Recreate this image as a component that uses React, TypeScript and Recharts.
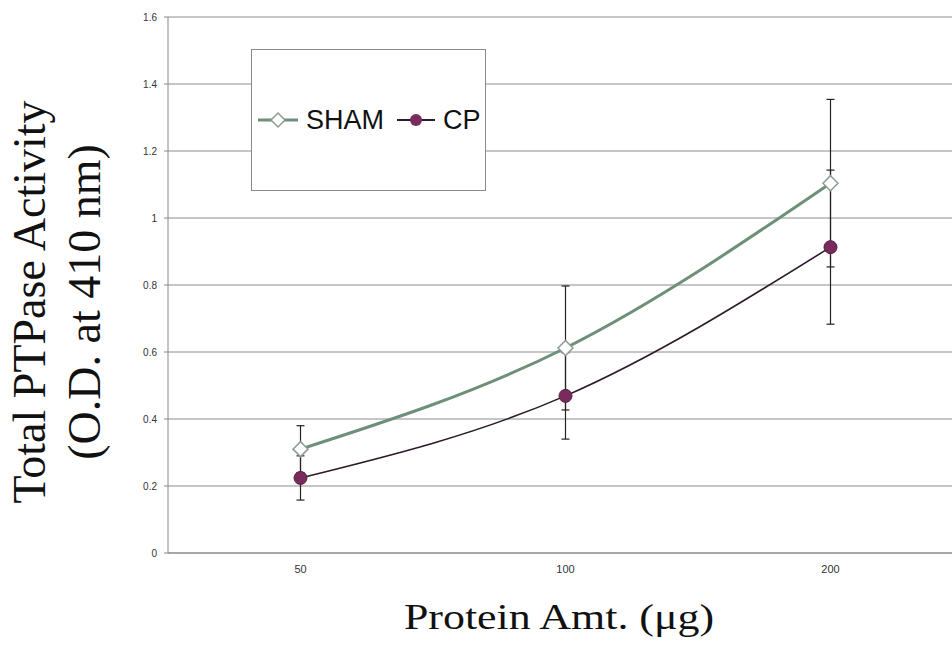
import { LineChart, Line, XAxis, YAxis, CartesianGrid, ErrorBar } from 'recharts';

// protein amounts on the x axis
const doses = ['50', '100', '200'];
const shamValues = [0.31, 0.612, 1.104];
const shamErrors = [0.07, 0.185, 0.25];
const cpValues = [0.224, 0.469, 0.913];
const cpErrors = [0.066, 0.129, 0.23];
const yTicks = [0, 0.2, 0.4, 0.6, 0.8, 1, 1.2, 1.4, 1.6];

const SHAM_LINE = '#6e9079';
const SHAM_EDGE = '#8d9c93';
const CP_LINE = '#2b1b2a';
const CP_FILL = '#7a2b5e';

const data = doses.map((d, i) => ({
    dose: d,
    sham: shamValues[i],
    shamErr: shamErrors[i],
    cp: cpValues[i],
    cpErr: cpErrors[i],
}));

const Diamond = (props: any) => {
    const { cx, cy, index } = props;
    const s = 7.5;
    return (
        <polygon
            key={`d-${index}`}
            points={`${cx},${cy - s} ${cx + s},${cy} ${cx},${cy + s} ${cx - s},${cy}`}
            fill="#fff"
            stroke={SHAM_EDGE}
            strokeWidth={1.5}
        />
    );
};

const Ball = (props: any) => {
    const { cx, cy, index } = props;
    return <circle key={`c-${index}`} cx={cx} cy={cy} r={6.5} fill={CP_FILL} stroke="#5a1d45" strokeWidth={1} />;
};

const fmt = (v: number) => String(v);

const LegendBox = () => (
    <div
        style={{
            position: 'absolute',
            left: 251,
            top: 49,
            width: 233,
            height: 140,
            border: '1px solid #8a8a8a',
            background: '#fff',
            display: 'flex',
            alignItems: 'center',
            fontFamily: '"Liberation Sans", Arial, sans-serif',
            fontSize: 27,
            color: '#111',
        }}
    >
        <svg width={40} height={20} style={{ marginLeft: 6 }}>
            <line x1={0} y1={10} x2={40} y2={10} stroke={SHAM_LINE} strokeWidth={3} />
            <polygon points="20,3 27,10 20,17 13,10" fill="#fff" stroke={SHAM_EDGE} strokeWidth={1.5} />
        </svg>
        <span style={{ marginLeft: 8 }}>SHAM</span>
        <svg width={38} height={20} style={{ marginLeft: 13 }}>
            <line x1={0} y1={10} x2={38} y2={10} stroke={CP_LINE} strokeWidth={2} />
            <circle cx={19} cy={10} r={6} fill={CP_FILL} />
        </svg>
        <span style={{ marginLeft: 8 }}>CP</span>
    </div>
);

export default function App() {
    return (
        <div style={{ position: 'absolute', left: 0, top: 0, width: 952, height: 648, overflow: 'hidden', background: '#fff' }}>
            <LineChart width={963} height={648} data={data} margin={{ top: 17, right: 0, left: 108, bottom: 65 }}>
                <CartesianGrid vertical={false} stroke="#8c8c8c" />
                <XAxis
                    dataKey="dose"
                    height={30}
                    padding={{ left: 132.5, right: 132.5 }}
                    tickLine={false}
                    tickSize={6}
                    tickMargin={6}
                    axisLine={{ stroke: '#888' }}
                    tick={{ fontSize: 11, fill: '#333', fontFamily: '"Liberation Sans", Arial, sans-serif' }}
                />
                <YAxis
                    width={60}
                    domain={[0, 1.6]}
                    ticks={yTicks}
                    tickFormatter={fmt}
                    tickSize={4}
                    tickMargin={7}
                    axisLine={{ stroke: '#888' }}
                    tickLine={{ stroke: '#888' }}
                    tick={{ fontSize: 10, fill: '#333', fontFamily: '"Liberation Sans", Arial, sans-serif' }}
                />
                <Line
                    type="monotone"
                    dataKey="sham"
                    name="SHAM"
                    stroke={SHAM_LINE}
                    strokeWidth={3}
                    dot={Diamond}
                    activeDot={false}
                    isAnimationActive={false}
                >
                    <ErrorBar dataKey="shamErr" width={4} stroke="#222" strokeWidth={1.2} direction="y" />
                </Line>
                <Line
                    type="monotone"
                    dataKey="cp"
                    name="CP"
                    stroke={CP_LINE}
                    strokeWidth={1.6}
                    dot={Ball}
                    activeDot={false}
                    isAnimationActive={false}
                >
                    <ErrorBar dataKey="cpErr" width={4} stroke="#222" strokeWidth={1.2} direction="y" />
                </Line>
            </LineChart>
            <LegendBox />
            <div
                style={{
                    position: 'absolute',
                    left: 57,
                    top: 302,
                    width: 500,
                    transform: 'translate(-50%, -50%) rotate(-90deg)',
                    textAlign: 'center',
                    fontFamily: '"Liberation Serif", "Times New Roman", serif',
                    fontSize: 46,
                    lineHeight: '55px',
                    color: '#111',
                }}
            >
                Total PTPase Activity
                <br />
                (O.D. at 410 nm)
            </div>
            <div
                style={{
                    position: 'absolute',
                    left: 559,
                    top: 599,
                    transform: 'translateX(-50%) scale(1.22, 1)',
                    whiteSpace: 'nowrap',
                    fontFamily: '"Liberation Serif", "Times New Roman", serif',
                    fontSize: 36,
                    lineHeight: 1,
                    color: '#111',
                }}
            >
                Protein Amt. (μg)
            </div>
        </div>
    );
}
